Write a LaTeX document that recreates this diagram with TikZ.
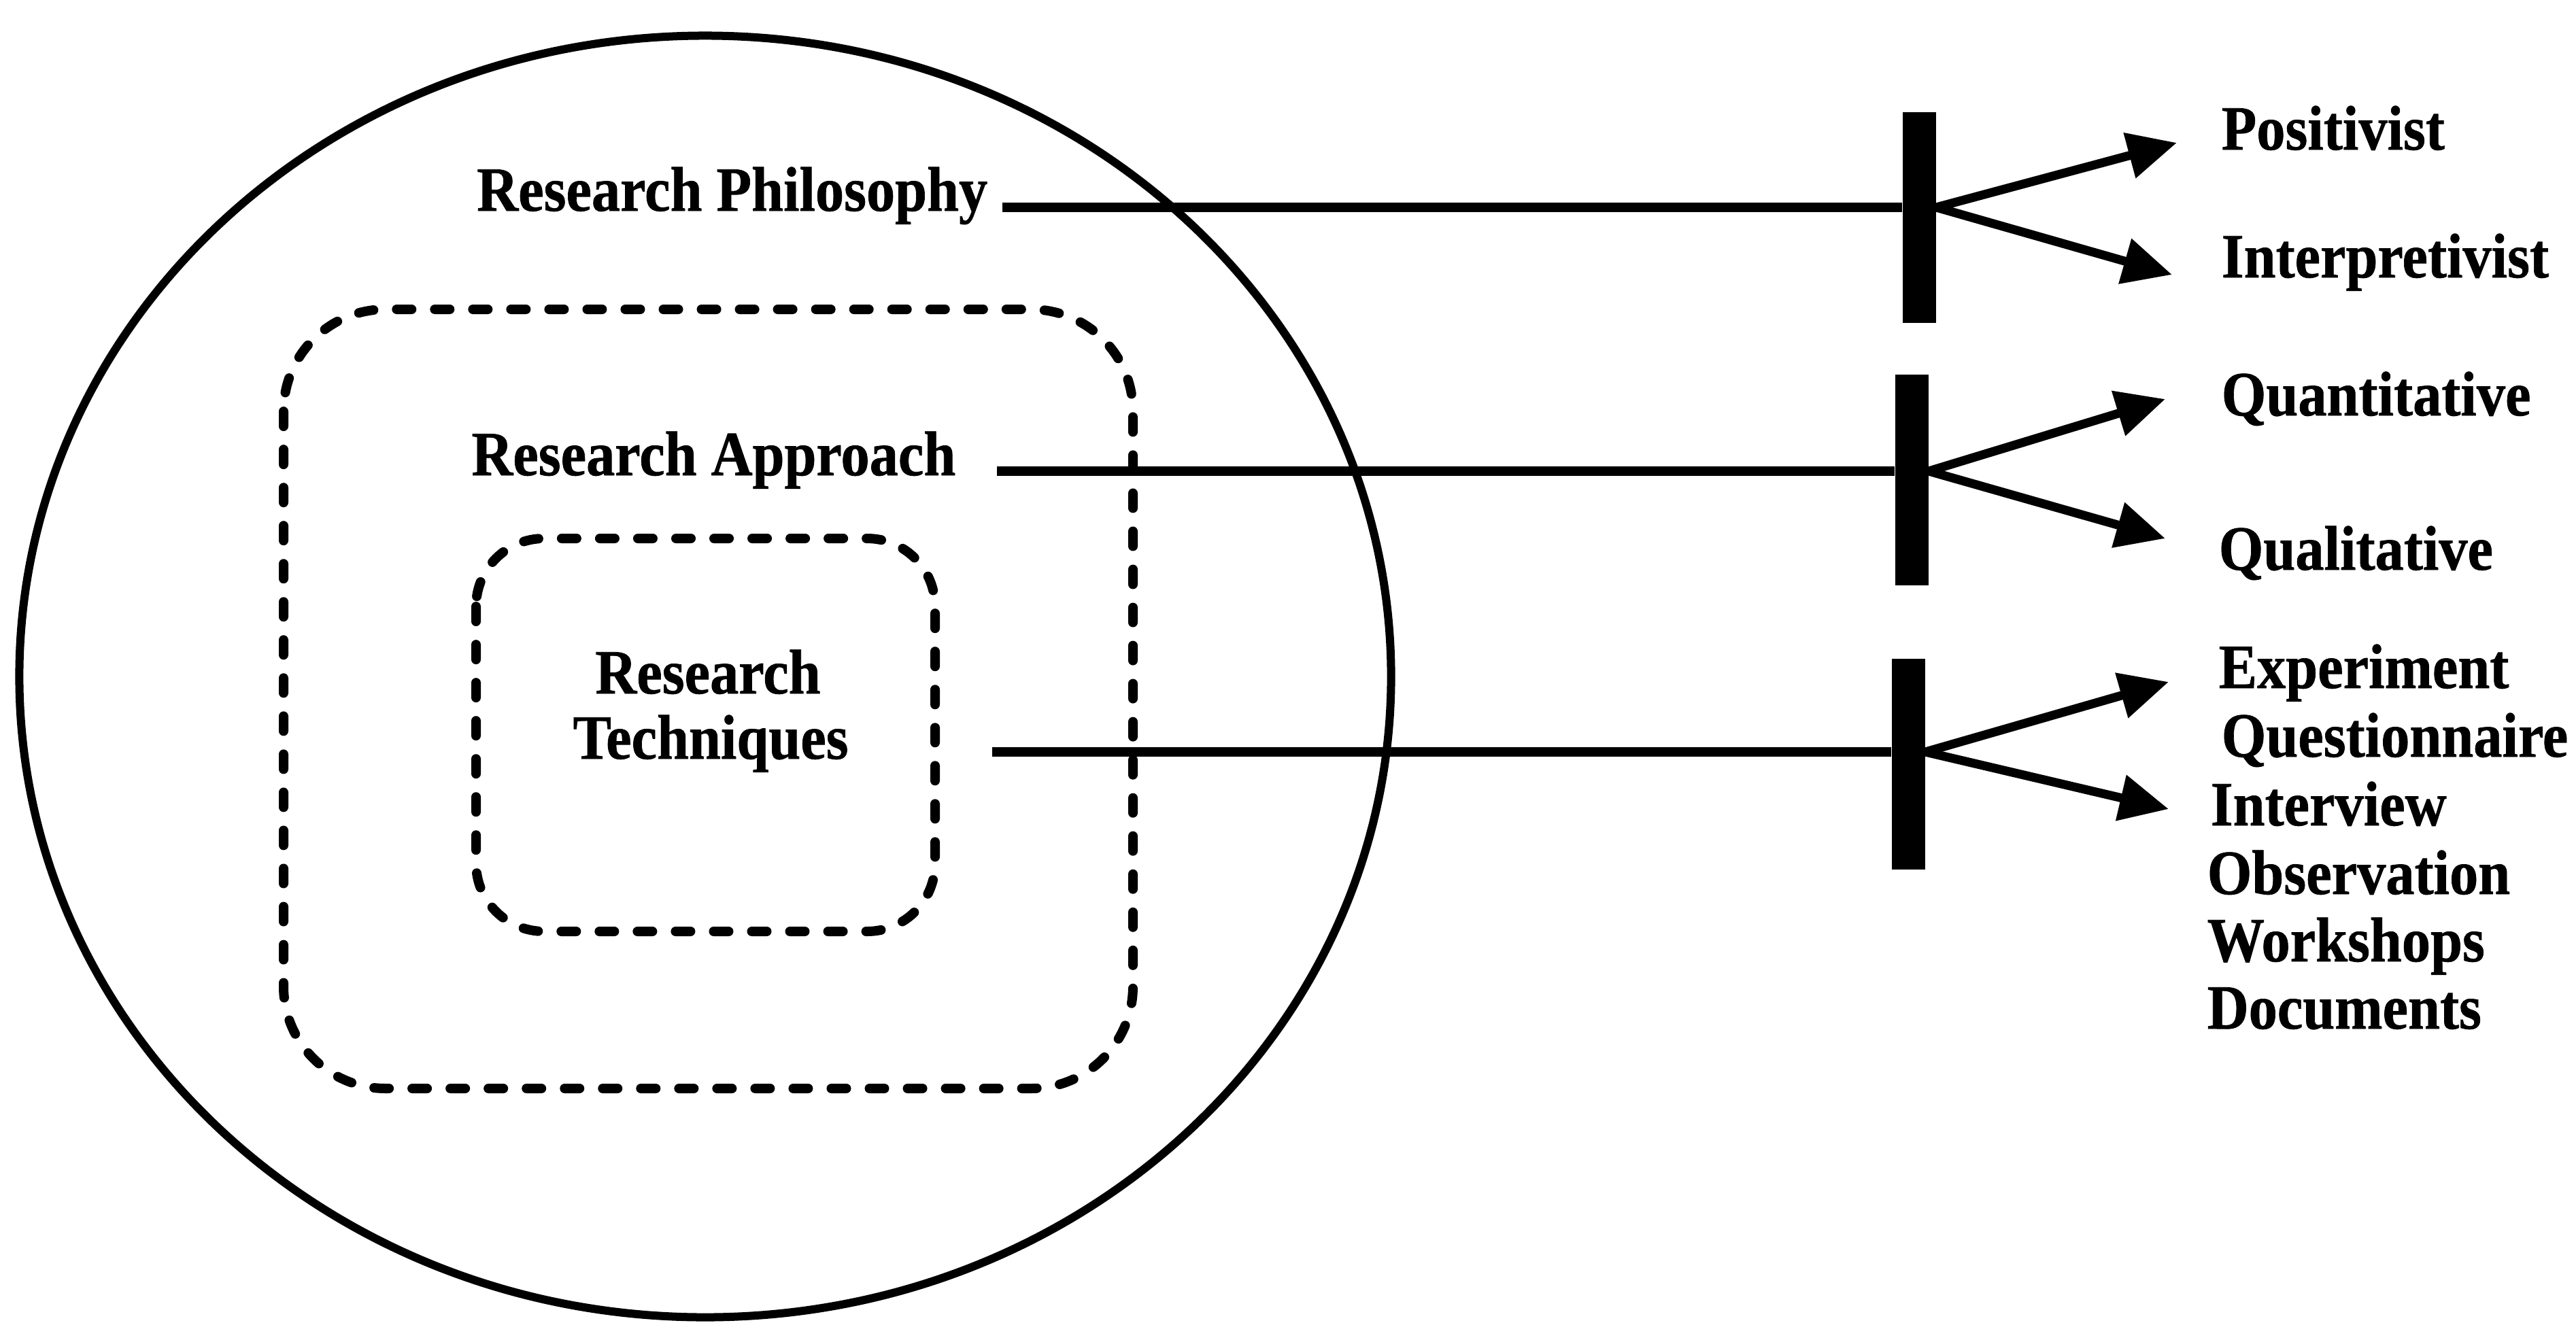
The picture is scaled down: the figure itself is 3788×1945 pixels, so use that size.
\documentclass[tikz,border=0pt]{standalone}
\usepackage{fontspec}
\setmainfont{Liberation Serif}[BoldFeatures={FakeBold=0.8}]
\usepackage{graphicx}
\usetikzlibrary{arrows.meta}
\newcommand{\tx}[1]{\scalebox{1}[1.1]{#1}}
\begin{document}
\begin{tikzpicture}[x=0.01cm, y=-0.01cm,
  lbl/.style={font=\bfseries\fontsize{24}{28}\selectfont, inner sep=0pt},
  barbox/.style={fill=black, draw=none, minimum width=0.49cm, minimum height=3.1cm, inner sep=0pt},
  conn/.style={line width=0.14cm},
  arr/.style={line width=0.13cm, -{Triangle[length=0.72cm,width=0.66cm]}},
  dashbox/.style={line width=0.14cm, line cap=round, dash pattern=on 0.22cm off 0.34cm}]
\useasboundingbox (0,0) rectangle (3788,1945);

% outer circle
\draw[line width=0.12cm] (1037,995) ellipse [x radius=10.08cm, y radius=9.42cm];
% dashed boxes
\draw[dashbox, rounded corners=1.5cm] (417,455) rectangle (1666,1601);
\draw[dashbox, rounded corners=1.0cm] (700,792) rectangle (1375,1370);

% left labels
\node[lbl, anchor=mid east] (phil) at (1453,302) {\tx{Research Philosophy}};
\node[lbl, anchor=mid east] (appr) at (1406,691) {\tx{Research Approach}};
\node[lbl, anchor=mid] (tech1) at (1041,1012) {\tx{Research}};
\node[lbl, anchor=mid] (tech2) at (1045,1108) {\tx{Techniques}};

% line starts
\coordinate (ls1) at (1474,305);
\coordinate (ls2) at (1466,693);
\coordinate (ls3) at (1459,1106);

% bars
\node[barbox] (bar1) at (2822,320) {};
\node[barbox] (bar2) at (2811,706) {};
\node[barbox] (bar3) at (2806,1124) {};

% right labels
\node[lbl, anchor=mid west] (pos) at (3266,212) {\tx{Positivist}};
\node[lbl, anchor=mid west] (interp) at (3266,400) {\tx{Interpretivist}};
\node[lbl, anchor=mid west] (quant) at (3266,603) {\tx{Quantitative}};
\node[lbl, anchor=mid west] (qual) at (3262,830) {\tx{Qualitative}};
\node[lbl, anchor=mid west] (exper) at (3262,1004) {\tx{Experiment}};
\node[lbl, anchor=mid west] (quest) at (3266,1105) {\tx{Questionnaire}};
\node[lbl, anchor=mid west] (intv) at (3250,1206) {\tx{Interview}};
\node[lbl, anchor=mid west] (obs) at (3245,1307) {\tx{Observation}};
\node[lbl, anchor=mid west] (works) at (3245,1406) {\tx{Workshops}};
\node[lbl, anchor=mid west] (docs) at (3245,1505) {\tx{Documents}};

% arrow tips
\coordinate (t1a) at (3201,210);
\coordinate (t1b) at (3194,404);
\coordinate (t2a) at (3184,587);
\coordinate (t2b) at (3184,792);
\coordinate (t3a) at (3189,1003);
\coordinate (t3b) at (3189,1190);

% connectors
\draw[conn] (ls1) -- (bar1.west |- ls1);
\draw[conn] (ls2) -- (bar2.west |- ls2);
\draw[conn] (ls3) -- (bar3.west |- ls3);

\draw[arr] (bar1.east |- ls1) -- (t1a);
\draw[arr] (bar1.east |- ls1) -- (t1b);
\draw[arr] (bar2.east |- ls2) -- (t2a);
\draw[arr] (bar2.east |- ls2) -- (t2b);
\draw[arr] (bar3.east |- ls3) -- (t3a);
\draw[arr] (bar3.east |- ls3) -- (t3b);
\end{tikzpicture}
\end{document}
